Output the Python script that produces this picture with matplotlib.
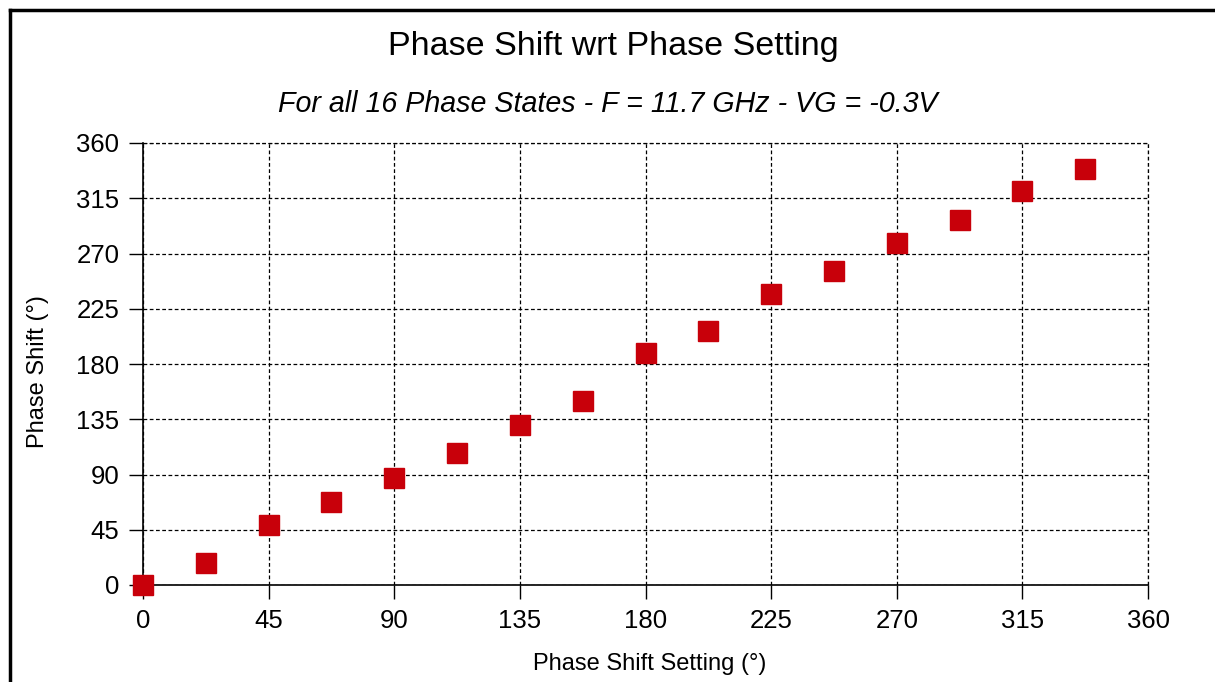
import numpy as np
import matplotlib
matplotlib.use('Agg')
import matplotlib.pyplot as plt
from matplotlib.lines import Line2D

plt.rcParams['font.family'] = ['Liberation Sans', 'DejaVu Sans']

# data
setting = [0, 22.5, 45, 67.5, 90, 112.5, 135, 157.5, 180, 202.5, 225, 247.5, 270, 292.5, 315, 337.5]
shift = [0, 18, 48.5, 68, 87.5, 107.5, 130, 149.5, 189, 206.8, 236.7, 255.4, 278.4, 297, 320.7, 338.5]
ticks = [0, 45, 90, 135, 180, 225, 270, 315, 360]

fig = plt.figure(figsize=(12.15, 6.82), dpi=100)
ax = fig.add_axes([143/1215, 1 - 585/682, 1005/1215, 442/682])

ax.plot(setting, shift, linestyle='none', marker='s', markersize=14,
        color='#c8000a', markeredgecolor='#c8000a', clip_on=False, zorder=5)

ax.set_xlim(0, 360)
ax.set_ylim(0, 360)
ax.set_xticks(ticks)
ax.set_yticks(ticks)
ax.tick_params(direction='out', length=10, width=1, labelsize=18.5, pad=7)
ax.grid(True, color='black', linestyle=(0, (3, 2)), linewidth=0.9)
ax.spines['top'].set_visible(False)
ax.spines['right'].set_visible(False)
ax.spines['left'].set_linewidth(1.2)
ax.spines['bottom'].set_linewidth(1.2)
ax.set_axisbelow(True)

# top and right edges drawn as dashed grid lines
ax.axhline(360, color='black', linestyle=(0, (3, 2)), linewidth=0.9, clip_on=False)
ax.axvline(360, color='black', linestyle=(0, (3, 2)), linewidth=0.9, clip_on=False)

fig.text(0.505, 1 - 47/682, 'Phase Shift wrt Phase Setting', ha='center', va='center', fontsize=24.5)
fig.text(0.5, 1 - 104/682, 'For all 16 Phase States - F = 11.7 GHz - VG = -0.3V',
         ha='center', va='center', fontsize=20.6, style='italic')
fig.text(650/1215, 1 - 664/682, 'Phase Shift Setting (°)', ha='center', va='center', fontsize=17)
fig.text(38/1215, 1 - 372/682, 'Phase Shift (°)', ha='center', va='center', fontsize=17, rotation=90)

# frame on the left and top of the figure
fig.add_artist(Line2D([10/1215, 10/1215], [0, 1 - 10/682], color='black', linewidth=2.5,
                      transform=fig.transFigure))
fig.add_artist(Line2D([10/1215, 1], [1 - 10/682, 1 - 10/682], color='black', linewidth=2.5,
                      transform=fig.transFigure))

fig.savefig('out.png', dpi=100)
